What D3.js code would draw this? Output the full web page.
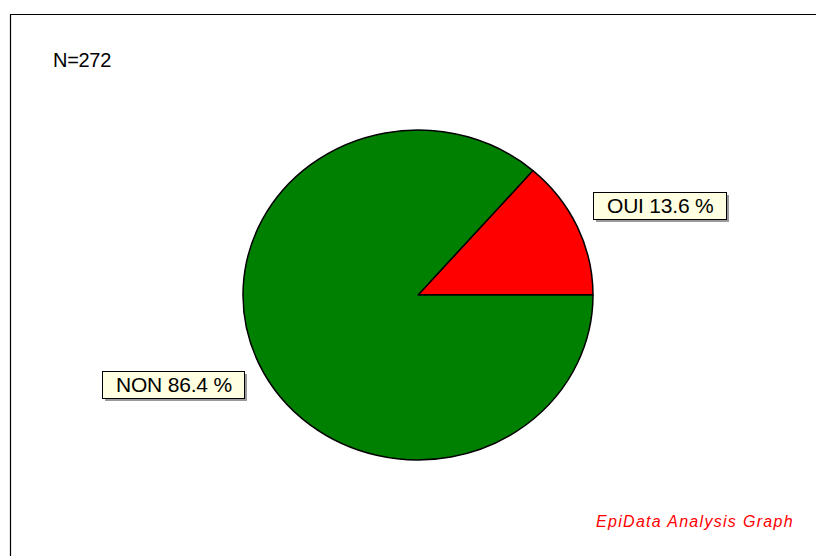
<!DOCTYPE html>
<html>
<head>
<meta charset="utf-8">
<script src="https://cdn.jsdelivr.net/npm/d3@7"></script>
<style>
  body { margin: 0; background: #fff; }
  svg { display: block; font-family: "Liberation Sans", Arial, sans-serif; }
</style>
</head>
<body>
<svg id="chart" width="816" height="556"></svg>
<script>
// data
const categories = ["OUI", "NON"];
const percents = [13.6, 86.4];
const colors = ["#ff0000", "#008000"];
const total = 272;

let svg = d3.select("#chart");
let width = +svg.attr("width");
let height = +svg.attr("height");

// frame (top and left edges)
svg.append("path")
    .attr("d", "M10.5," + height + "V14.5H" + width)
    .attr("fill", "none")
    .attr("stroke", "#000")
    .attr("stroke-width", 1.2);

svg.append("text")
    .attr("x", 53)
    .attr("y", 67)
    .attr("font-size", 20)
    .attr("letter-spacing", -0.3)
    .text("N=" + total);

svg.append("text")
    .attr("x", 596)
    .attr("y", 527)
    .attr("font-size", 16)
    .attr("font-style", "italic")
    .attr("letter-spacing", 1.3)
    .attr("fill", "#ff0000")
    .text("EpiData Analysis Graph");

let cx = 418, cy = 295, rx = 175, ry = 165;

let data = categories.map(function (c, i) {
    return { name: c, value: percents[i], color: colors[i] };
});

// counterclockwise from 3 o'clock
let pie = d3.pie()
    .sort(null)
    .value(function (d) { return d.value; })
    .startAngle(Math.PI / 2)
    .endAngle(Math.PI / 2 - 2 * Math.PI);

let arc = d3.arc().innerRadius(0).outerRadius(rx);
let arcs = pie(data);

let g = svg.append("g")
    .attr("transform", "translate(" + cx + "," + cy + ") scale(1," + (ry / rx) + ")");

g.selectAll("path")
    .data(arcs)
    .enter().append("path")
    .attr("d", arc)
    .attr("fill", function (d) { return d.data.color; })
    .attr("stroke", "#000")
    .attr("stroke-width", 1.5)
    .attr("stroke-linejoin", "round")
    .attr("vector-effect", "non-scaling-stroke");

// labels
arcs.forEach(function (d) {
    let mid = (d.startAngle + d.endAngle) / 2;
    let right = Math.sin(mid) > 0;
    let yc = cy - 215 * Math.cos(mid);
    let lg = svg.append("g");
    let t = lg.append("text")
        .attr("font-size", 21)
        .attr("letter-spacing", -0.2)
        .text(d.data.name + " " + d.data.value.toFixed(1) + " %");
    let tw = t.node().getComputedTextLength();
    let bw = Math.round(tw + 26), bh = 27;
    let bx = right ? cx + rx : cx - rx + 1 - bw;
    let by = Math.round(yc - bh / 2);
    lg.insert("rect", "text")
        .attr("x", bx + 3).attr("y", by + 3)
        .attr("width", bw).attr("height", bh)
        .attr("fill", "#9a9a9a");
    lg.insert("rect", "text")
        .attr("x", bx + 0.5).attr("y", by + 0.5)
        .attr("width", bw).attr("height", bh)
        .attr("fill", "#ffffe1")
        .attr("stroke", "#000")
        .attr("stroke-width", 1);
    t.attr("x", bx + 14).attr("y", by + 21);
});
</script>
</body>
</html>
